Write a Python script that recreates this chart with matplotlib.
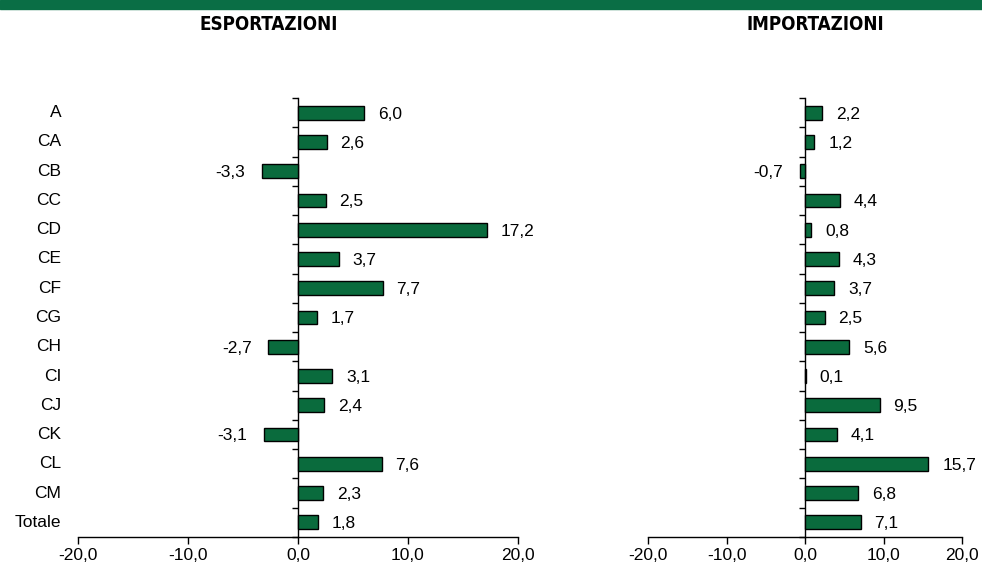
import numpy as np
import matplotlib.pyplot as plt
from matplotlib.patches import Rectangle

categorie = ['A', 'CA', 'CB', 'CC', 'CD', 'CE', 'CF', 'CG', 'CH', 'CI', 'CJ', 'CK', 'CL', 'CM', 'Totale']
esportazioni = [6.0, 2.6, -3.3, 2.5, 17.2, 3.7, 7.7, 1.7, -2.7, 3.1, 2.4, -3.1, 7.6, 2.3, 1.8]
importazioni = [2.2, 1.2, -0.7, 4.4, 0.8, 4.3, 3.7, 2.5, 5.6, 0.1, 9.5, 4.1, 15.7, 6.8, 7.1]
xticks = [-20, -10, 0, 10, 20]

verde = '#0a6b3d'
fs = 12.5
plt.rcParams['font.family'] = ['Liberation Sans', 'DejaVu Sans']

fig = plt.figure(figsize=(9.82, 5.69), dpi=100)
# banda verde in alto
fig.patches.append(Rectangle((0, 1 - 9/569), 1, 9/569, transform=fig.transFigure,
                             color='#0a6e45', zorder=0))

ax1 = fig.add_axes([78/982, 1 - 537/569, 440/982, 439/569])
ax2 = fig.add_axes([648/982, 1 - 537/569, 314/982, 439/569])


def disegna(ax, valori, etichette):
    y = np.arange(len(valori))
    ax.barh(y, valori, height=0.47, color=verde, edgecolor='black', linewidth=1.0, zorder=3)
    for yi, v in zip(y, valori):
        testo = f'{v:.1f}'.replace('.', ',')
        if v >= 0:
            ax.annotate(testo, (v, yi), xytext=(10, -1), textcoords='offset points',
                        ha='left', va='center', fontsize=fs)
        else:
            ax.annotate(testo, (v, yi), xytext=(-12, -1), textcoords='offset points',
                        ha='right', va='center', fontsize=fs)
    ax.set_xlim(-20, 20)
    ax.set_ylim(len(valori) - 0.5, -0.5)
    ax.set_xticks(xticks)
    ax.set_xticklabels([f'{t:.1f}'.replace('.', ',') for t in xticks], fontsize=fs)
    ax.tick_params(axis='x', length=5, width=1, direction='out', pad=3)
    # asse verticale in 0 con tacche tra le categorie
    ax.spines['left'].set_position(('data', 0))
    ax.spines['left'].set_linewidth(1)
    ax.set_yticks(np.arange(len(valori) + 1) - 0.5)
    ax.set_yticklabels([])
    ax.tick_params(axis='y', length=4, width=1, direction='out')
    for s in ['top', 'right']:
        ax.spines[s].set_visible(False)
    ax.spines['bottom'].set_linewidth(1)
    if etichette:
        for yi, c in zip(y, etichette):
            ax.annotate(c, (0, yi), xycoords=('axes fraction', 'data'), xytext=(-12, 0),
                        textcoords='offset points', ha='right', va='center', fontsize=fs)


disegna(ax1, esportazioni, categorie)
disegna(ax2, importazioni, None)

for x, titolo in [(269, 'ESPORTAZIONI'), (815, 'IMPORTAZIONI')]:
    fig.text(x/982, 1 - 24/569, titolo, ha='center', va='center', fontsize=13.5,
             fontweight='bold', fontstretch='condensed',
             family=['DejaVu Sans', 'Liberation Sans'])

plt.savefig('out.png', dpi=100)
